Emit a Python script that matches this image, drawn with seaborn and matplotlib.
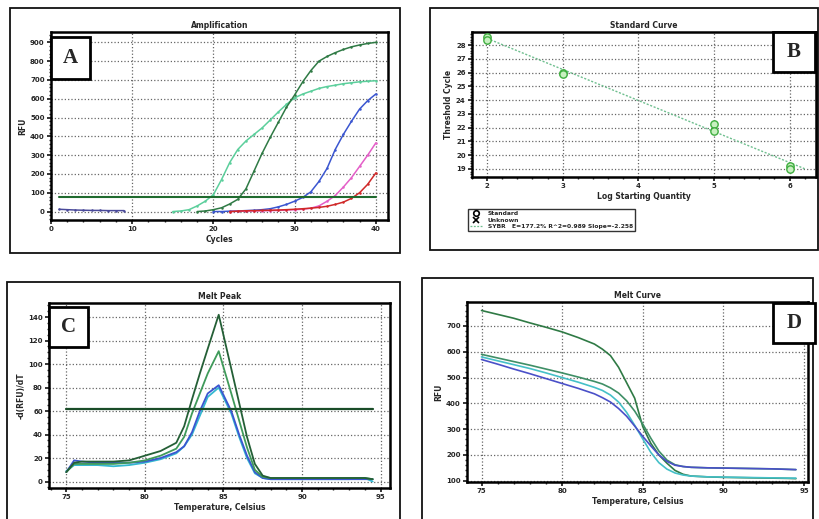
import matplotlib
matplotlib.use("Agg")
import matplotlib.pyplot as plt
import numpy as np
import pandas as pd
import seaborn as sns
from matplotlib.patches import Rectangle
from matplotlib.lines import Line2D

# ---------------- Panel A: Amplification ----------------
amp_baseline_cycles = [1, 2, 3, 4, 5, 6, 7, 8, 9]
amp_baseline_rfu = [12, 10, 8, 7, 6, 6, 5, 5, 5]
amp_teal_cycles = list(range(15, 41))
amp_teal_rfu = [0, 3, 10, 30, 55, 90, 170, 260, 330, 375, 410, 445, 487, 530, 570, 605,
                625, 640, 655, 665, 672, 680, 685, 690, 693, 696]
amp_dkgreen_cycles = list(range(18, 41))
amp_dkgreen_rfu = [0, 3, 10, 20, 40, 65, 120, 215, 310, 395, 475, 555, 620, 690, 750,
                   800, 825, 845, 862, 876, 886, 894, 900]
amp_blue_cycles = list(range(20, 41))
amp_blue_rfu = [0, 0, 2, 3, 5, 7, 10, 15, 25, 38, 55, 75, 105, 160, 230, 330, 410, 480,
                545, 590, 625]
amp_magenta_cycles = list(range(22, 41))
amp_magenta_rfu = [0, 1, 2, 3, 4, 5, 6, 8, 10, 12, 18, 30, 55, 85, 130, 180, 240, 300, 365]
amp_red_cycles = list(range(22, 41))
amp_red_rfu = [0, 2, 4, 5, 6, 7, 8, 10, 12, 15, 18, 22, 28, 38, 50, 70, 100, 145, 205]
amp_threshold = 77
amp_xticks = [0, 10, 20, 30, 40]
amp_yticks = [0, 100, 200, 300, 400, 500, 600, 700, 800, 900]

# ---------------- Panel B: Standard curve ----------------
std_log_qty = [2, 2, 3, 3, 5, 5, 6, 6]
std_ct = [28.55, 28.35, 26.0, 25.9, 22.25, 21.75, 19.2, 19.0]
fit_slope = -2.258
fit_intercept = 33.0
fit_x_range = [2.0, 6.2]
std_xticks = [2, 3, 4, 5, 6]
std_yticks = [19, 20, 21, 22, 23, 24, 25, 26, 27, 28]
legend_labels = ["Standard", "Unknown", "SYBR   E=177.2% R^2=0.989 Slope=-2.258"]

# ---------------- Panel C: Melt peak ----------------
peak_temps = [75, 75.5, 76, 77, 78, 79, 80, 81, 82, 82.5, 83, 83.5, 84, 84.7, 85.5, 86,
              86.5, 87, 87.5, 88, 89, 90, 91, 92, 93, 94, 94.5]
peak_dkgreen = [8, 16, 17, 17, 17, 18, 22, 26, 33, 47, 70, 92, 113, 142, 96, 67, 38, 15,
                5, 3, 3, 3, 3, 3, 3, 3, 2]
peak_green = [8, 15, 15, 15, 15, 16, 18, 22, 28, 38, 58, 75, 92, 111, 75, 52, 29, 10, 4,
              3, 3, 3, 3, 3, 3, 3, 2]
peak_blue = [8, 18, 17, 16, 16, 16, 17, 20, 25, 30, 42, 60, 75, 82, 60, 40, 22, 8, 3, 2,
             2, 2, 2, 2, 2, 2, 2]
peak_cyan = [9, 14, 14, 14, 13, 14, 16, 19, 24, 30, 40, 56, 72, 80, 58, 38, 20, 7, 3, 2,
             2, 2, 2, 2, 2, 3, 0]
peak_threshold = 62
temp_xticks = [75, 80, 85, 90, 95]
peak_yticks = [0, 20, 40, 60, 80, 100, 120, 140]

# ---------------- Panel D: Melt curve ----------------
melt_temps = [75, 76, 77, 78, 79, 80, 81, 82, 82.5, 83, 83.5, 84, 84.5, 85, 85.5, 86,
              86.5, 87, 87.5, 88, 89, 90, 91, 92, 93, 94, 94.5]
melt_dkgreen = [760, 745, 730, 712, 695, 677, 655, 630, 610, 585, 540, 480, 420, 310, 245,
                200, 168, 140, 125, 118, 115, 113, 112, 111, 110, 109, 108]
melt_green = [590, 576, 562, 548, 533, 518, 502, 485, 475, 460, 440, 410, 370, 320, 265,
              215, 180, 162, 155, 152, 150, 149, 148, 147, 146, 144, 143]
melt_blue = [570, 552, 533, 515, 496, 477, 458, 437, 422, 405, 380, 350, 312, 272, 235,
             200, 175, 160, 155, 152, 150, 149, 148, 147, 146, 144, 143]
melt_cyan = [580, 565, 550, 535, 518, 500, 482, 462, 450, 432, 405, 365, 315, 262, 210,
             170, 145, 130, 122, 118, 115, 114, 113, 112, 111, 110, 110]
melt_yticks = [100, 200, 300, 400, 500, 600, 700]

# ---------------- colours ----------------
C_TEAL = "#5ccf9c"
C_DKG = "#2f7a45"
C_BLUE = "#3b56d0"
C_MAG = "#e45fc8"
C_RED = "#d02828"
C_NAVY = "#4a4a9a"
C_THR = "#1f6a2e"
C_MG = "#3f9a5a"
C_CYAN = "#34b8d0"

sns.set_theme(style="white")
plt.rcParams["font.family"] = ["DejaVu Sans"]

W, H = 819, 519
fig = plt.figure(figsize=(W / 100, H / 100), dpi=100)
fig.patch.set_facecolor("white")


def rect(l, t, r, b):
    return [l / W, 1 - b / H, (r - l) / W, (b - t) / H]


def frame(l, t, r, b, lw=1.3):
    fig.add_artist(Rectangle((l / W, 1 - b / H), (r - l) / W, (b - t) / H,
                             transform=fig.transFigure, fill=False, lw=lw,
                             ec="#111111", zorder=0))


def label_box(l, t, r, b, letter):
    fig.add_artist(Rectangle((l / W, 1 - b / H), (r - l) / W, (b - t) / H,
                             transform=fig.transFigure, facecolor="white", lw=2.0,
                             ec="black", zorder=10))
    fig.text((l + r) / 2 / W, 1 - (t + b) / 2 / H, letter, ha="center", va="center",
             fontsize=15, fontweight="bold", family=["Liberation Serif", "DejaVu Serif"],
             zorder=11)


def style(ax, title, xlabel, ylabel, xticks, yticks):
    ax.set_facecolor("white")
    ax.set_title(title, fontsize=5.5, fontweight="bold", pad=3)
    ax.set_xlabel(xlabel, fontsize=5.5, fontweight="bold", labelpad=2)
    ax.set_ylabel(ylabel, fontsize=5.5, fontweight="bold", labelpad=2)
    ax.set_xticks(xticks)
    ax.set_yticks(yticks)
    ax.grid(True, ls=":", color="#666666", lw=0.9)
    ax.minorticks_on()
    ax.tick_params(which="major", labelsize=5, width=1.3, length=3, direction="out",
                   pad=1.5, bottom=True, left=True)
    ax.tick_params(which="minor", width=1.0, length=1.6, direction="out", bottom=True,
                   left=True)
    for lab in ax.get_xticklabels() + ax.get_yticklabels():
        lab.set_fontweight("bold")
    for s in ax.spines.values():
        s.set_linewidth(1.8)
        s.set_color("black")
    ax.grid(False, which="minor")


# ---------------- Frames ----------------
frame(10, 8, 400, 253)
frame(430, 8, 818, 250)
frame(7, 282, 400, 530)
frame(422, 278, 813, 530)

# ---------------- Panel A ----------------
axA = fig.add_axes(rect(51, 32, 388, 220))
amp_series = [
    ("baseline", amp_baseline_cycles, amp_baseline_rfu),
    ("teal", amp_teal_cycles, amp_teal_rfu),
    ("dkgreen", amp_dkgreen_cycles, amp_dkgreen_rfu),
    ("blue", amp_blue_cycles, amp_blue_rfu),
    ("magenta", amp_magenta_cycles, amp_magenta_rfu),
    ("red", amp_red_cycles, amp_red_rfu),
]
amp_df = pd.concat([pd.DataFrame({"Cycle": c, "RFU": v, "well": n}) for n, c, v in amp_series])
amp_pal = {"baseline": C_NAVY, "teal": C_TEAL, "dkgreen": C_DKG, "blue": C_BLUE,
           "magenta": C_MAG, "red": C_RED}
sns.lineplot(data=amp_df, x="Cycle", y="RFU", hue="well", palette=amp_pal, ax=axA,
             legend=False, lw=1.1, marker="o", markersize=1.8, markeredgewidth=0)
axA.axhline(amp_threshold, xmin=(1 - 0) / 41.5, xmax=(40 - 0) / 41.5, color=C_THR, lw=1.5)
axA.set_xlim(0, 41.5)
axA.set_ylim(-45, 955)
style(axA, "Amplification", "Cycles", "RFU", amp_xticks, amp_yticks)
label_box(51, 37, 90, 79, "A")

# ---------------- Panel B ----------------
axB = fig.add_axes(rect(472, 32, 816, 177))
fit_df = pd.DataFrame({"x": fit_x_range,
                       "y": [fit_intercept + fit_slope * v for v in fit_x_range]})
sns.lineplot(data=fit_df, x="x", y="y", ax=axB, color="#6fbf8f", lw=1.0, ls=(0, (1.5, 1.2)),
             legend=False)
std_df = pd.DataFrame({"log": std_log_qty, "ct": std_ct})
sns.scatterplot(data=std_df, x="log", y="ct", ax=axB, s=28, facecolor="#c8f0c0",
                edgecolor="#3fae3f", linewidth=1.0, legend=False, zorder=5)
axB.set_xlim(1.8, 6.35)
axB.set_ylim(18.4, 28.95)
style(axB, "Standard Curve", "Log Starting Quantity", "Threshold Cycle", std_xticks,
      std_yticks)
label_box(773, 32, 815, 72, "B")
handles = [
    Line2D([], [], ls="none", marker="o", mfc="none", mec="black", ms=4, mew=1.2),
    Line2D([], [], ls="none", marker="x", color="black", ms=4, mew=1.2),
    Line2D([], [], color="#6fbf8f", lw=0.9, ls=(0, (1.5, 1.2))),
]
leg = fig.legend(handles, legend_labels, loc="upper left",
                 bbox_to_anchor=(468 / W, 1 - 209 / H), fontsize=4.3, frameon=True,
                 fancybox=False, edgecolor="black", handlelength=2.2, borderpad=0.3,
                 labelspacing=0.25, handletextpad=0.8, borderaxespad=0)
leg.get_frame().set_linewidth(1.0)
for t in leg.get_texts():
    t.set_fontweight("bold")

# ---------------- Panel C ----------------
axC = fig.add_axes(rect(49, 303, 390, 488))
peak_df = pd.concat([
    pd.DataFrame({"Temp": peak_temps, "val": peak_cyan, "well": "cyan"}),
    pd.DataFrame({"Temp": peak_temps, "val": peak_blue, "well": "blue"}),
    pd.DataFrame({"Temp": peak_temps, "val": peak_green, "well": "green"}),
    pd.DataFrame({"Temp": peak_temps, "val": peak_dkgreen, "well": "dkgreen"}),
])
peak_pal = {"cyan": C_CYAN, "blue": C_BLUE, "green": C_MG, "dkgreen": "#245f36"}
sns.lineplot(data=peak_df, x="Temp", y="val", hue="well", palette=peak_pal, ax=axC,
             legend=False, lw=1.3, sort=False)
axC.axhline(peak_threshold, xmin=(75 - 73.9) / (95.6 - 73.9),
            xmax=(94.5 - 73.9) / (95.6 - 73.9), color="#1a4d28", lw=1.6)
axC.set_xlim(73.9, 95.6)
axC.set_ylim(-5.5, 152)
style(axC, "Melt Peak", "Temperature, Celsius", "-d(RFU)/dT", temp_xticks, peak_yticks)
label_box(49, 307, 88, 347, "C")

# ---------------- Panel D ----------------
axD = fig.add_axes(rect(467, 302, 808, 482))
melt_df = pd.concat([
    pd.DataFrame({"Temp": melt_temps, "RFU": melt_dkgreen, "well": "dkgreen"}),
    pd.DataFrame({"Temp": melt_temps, "RFU": melt_green, "well": "green"}),
    pd.DataFrame({"Temp": melt_temps, "RFU": melt_cyan, "well": "cyan"}),
    pd.DataFrame({"Temp": melt_temps, "RFU": melt_blue, "well": "blue"}),
])
melt_pal = {"dkgreen": "#2f7a45", "green": "#3f8f66", "cyan": "#45c0c8", "blue": "#4a50c8"}
sns.lineplot(data=melt_df, x="Temp", y="RFU", hue="well", palette=melt_pal, ax=axD,
             legend=False, lw=1.2, sort=False)
axD.set_xlim(74.1, 95.25)
axD.set_ylim(95, 793)
style(axD, "Melt Curve", "Temperature, Celsius", "RFU", temp_xticks, melt_yticks)
label_box(773, 303, 815, 343, "D")

fig.savefig("out.png", dpi=100, facecolor="white")
